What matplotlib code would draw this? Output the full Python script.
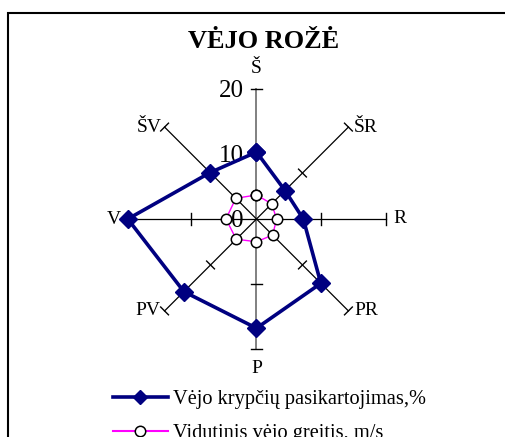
import numpy as np
import matplotlib.pyplot as plt
from matplotlib.lines import Line2D
from matplotlib.patches import Rectangle

plt.rcParams['font.family'] = ['Liberation Serif', 'DejaVu Serif']

directions = ['Š', 'ŠR', 'R', 'PR', 'P', 'PV', 'V', 'ŠV']
frequency = [10.3, 6.2, 7.2, 14.0, 16.8, 15.8, 19.8, 10.1]
speed = [3.7, 3.3, 3.1, 3.5, 3.5, 4.4, 4.7, 4.5]
radial_ticks = [0, 10, 20]
rmax = 20
freq_label = 'Vėjo krypčių pasikartojimas,%'
speed_label = 'Vidutinis vėjo greitis, m/s'

# angle measured clockwise from north
angles = np.deg2rad(np.arange(len(directions)) * 45)


def to_xy(r, a):
    r = np.asarray(r, dtype=float)
    return r * np.sin(a), r * np.cos(a)


fig = plt.figure(figsize=(5.05, 4.37), dpi=100)
ax = fig.add_axes([0, 0, 1, 1])
px = 6.5  # pixels per unit
ax.set_xlim(-256.5 / px, (505 - 256.5) / px)
ax.set_ylim(-(437 - 219) / px, 219 / px)
ax.axis('off')

# spokes with tick marks
tick_half = 0.85
for i, a in enumerate(angles):
    col = '#808080' if i == 0 or i == 4 else 'black'
    lw = 1.4 if col != 'black' else 0.9
    x1, y1 = to_xy(rmax, a)
    ax.plot([0, x1], [0, y1], color=col, lw=lw, zorder=1)
    for t in radial_ticks[1:]:
        cx, cy = to_xy(t, a)
        ux, uy = np.cos(a), -np.sin(a)
        ax.plot([cx - tick_half * ux, cx + tick_half * ux],
                [cy - tick_half * uy, cy + tick_half * uy],
                color='black', lw=1.0, zorder=1)

# radial labels
for t in radial_ticks:
    ax.text(-2.0, t - 0.3, str(t), ha='right', va='center', fontsize=18,
            zorder=2)

# series
fx, fy = to_xy(frequency + frequency[:1], np.append(angles, angles[0]))
ax.plot(fx, fy, color='#000080', lw=2.6, marker='D', ms=9.5,
        mfc='#000080', mec='#000080', zorder=3)
sx, sy = to_xy(speed + speed[:1], np.append(angles, angles[0]))
ax.plot(sx, sy, color='#ff00ff', lw=1.0, marker='o', ms=7.5,
        mfc='white', mec='black', mew=1.1, zorder=4)

# direction labels
offsets = {'Š': (0, 15, 'center', 'center'), 'ŠR': (4, 0, 'left', 'center'),
           'R': (5, 0, 'left', 'center'), 'PR': (4, 0, 'left', 'center'),
           'P': (0, -14, 'center', 'center'), 'PV': (-3, 0, 'right', 'center'),
           'V': (-4, 0, 'right', 'center'), 'ŠV': (-2, 0, 'right', 'center')}
for name, a in zip(directions, angles):
    ex, ey = to_xy(rmax, a)
    dx, dy, ha, va = offsets[name]
    ax.annotate(name, (ex, ey), xytext=(dx, dy), textcoords='offset points',
                ha=ha, va=va, fontsize=14)

fig.text(0.522, 0.905, 'VĖJO ROŽĖ', ha='center', va='center',
         fontsize=19, fontweight='bold')

handles = [Line2D([], [], color='#000080', lw=2.6, marker='D', ms=7,
                  mfc='#000080', mec='#000080'),
           Line2D([], [], color='#ff00ff', lw=1.5, marker='o', ms=7.5,
                  mfc='white', mec='black', mew=1.1)]
fig.legend(handles, [freq_label, speed_label], loc='center',
           bbox_to_anchor=(0.533, 0.048), frameon=False,
           fontsize=14.7, handlelength=2.7, handletextpad=0.25,
           labelspacing=0.72, borderpad=0)

fig.patches.append(Rectangle((8 / 505, -0.1), 1.2, 1 - 13 / 437 + 0.1,
                             transform=fig.transFigure, fill=False,
                             lw=1.5, ec='black'))

fig.savefig('out.png', dpi=100)
